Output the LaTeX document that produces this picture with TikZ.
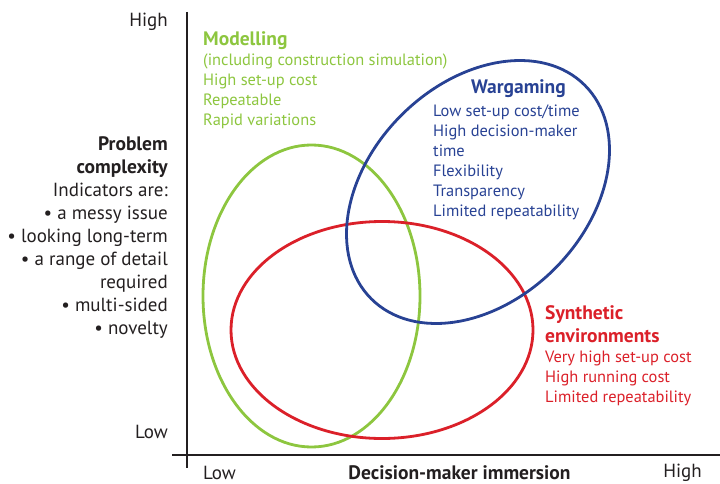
\documentclass[tikz,border=0pt]{standalone}
\usepackage{fontspec}
\setmainfont{PT Sans}
\usepackage{tikz}
\usetikzlibrary{positioning}

\definecolor{modgreen}{RGB}{141,198,63}
\definecolor{warblue}{RGB}{40,66,148}
\definecolor{synred}{RGB}{219,32,41}
\definecolor{axisblack}{RGB}{35,31,32}

\newcommand{\headfont}{\fontsize{19.5}{23}\selectfont\bfseries}

\tikzset{
  axis/.style={draw=axisblack,line width=2.4pt},
  blob/.style={line width=2.8pt},
  blocktext/.style={inner sep=0pt,anchor=north west,align=left,font=\fontsize{16.4}{20}\selectfont},
  axislabel/.style={inner sep=0pt,text=axisblack,font=\fontsize{19}{23}\selectfont},
}

\begin{document}
\begin{tikzpicture}[x=1pt,y=-1pt]
    \useasboundingbox (0,0) rectangle (720,484);

    % axes
    \coordinate (ytop) at (187,12);
    \coordinate (ybot) at (187,468);
    \coordinate (xleft) at (172,455);
    \coordinate (xright) at (720,455);
    \draw[axis] (ytop) -- (ybot);
    \draw[axis] (xleft) -- (xright);

    % the three approaches
    \draw[blob,draw=modgreen] (311.5,296) ellipse [x radius=108.5, y radius=151];
    \draw[blob,draw=synred] (382,330) ellipse [x radius=151, y radius=108.5];
    \draw[blob,draw=warblue,rotate around={45:(478,192)}] (478,192) ellipse [x radius=151, y radius=108.5];

    % axis labels
    \node[axislabel,anchor=east] (yhigh) at (168,22) {High};
    \node[axislabel,anchor=east] (ylow) at (168,432) {Low};
    \node[axislabel,anchor=west] (xlow) at (203,472.5) {Low};
    \node[axislabel,font=\headfont] (xname) at (459.5,472.5) {Decision-maker immersion};
    \node[axislabel,anchor=east] (xhigh) at (702,472.5) {High};

    \node[axislabel,anchor=north east,align=right] (complexity) at (168,136.5)
      {{\headfont Problem}\\ {\headfont complexity}\\ Indicators are:\\ • a messy issue\\ • looking long-term\\
       • a range of detail\\ required\\ • multi-sided\\ • novelty};

    % descriptions
    \node[blocktext,text=modgreen] (modelling) at (203,31)
      {{\headfont Modelling}\\ (including construction simulation)\\ High set-up cost\\ Repeatable\\ Rapid variations};
    \node[blocktext,text=warblue,anchor=base,font=\headfont] (wartitle) at (518.5,93.3) {Wargaming};
    \node[blocktext,text=warblue] (wargaming) at (433,104.5)
      {Low set-up cost/time\\ High decision-maker\\ time\\ Flexibility\\ Transparency\\ Limited repeatability};
    \node[blocktext,text=synred] (synthetic) at (545,305)
      {{\headfont Synthetic}\\[3.3pt] {\headfont environments}\\ Very high set-up cost\\ High running cost\\ Limited repeatability};
\end{tikzpicture}
\end{document}
